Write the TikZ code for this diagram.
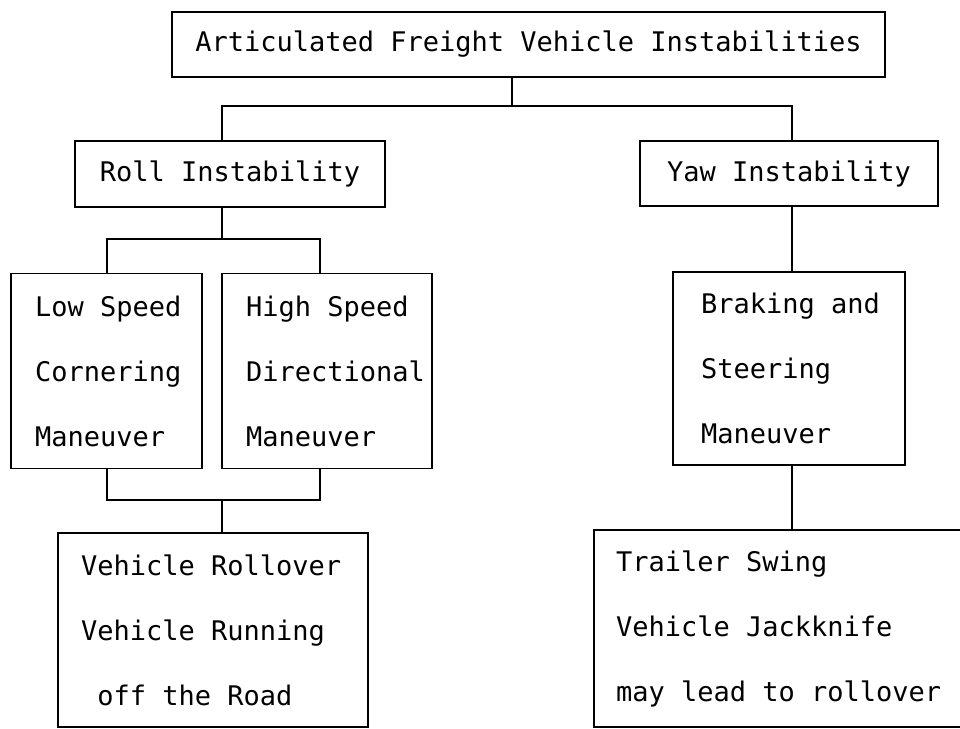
\documentclass[tikz,border=0pt]{standalone}
\usepackage{fontspec}
\setmonofont[WordSpace={1,0,0}]{DejaVu Sans Mono}
\newcommand\boxfont{\ttfamily\fontsize{27}{65}\selectfont}
\newcommand\monospaces{\spaceskip=0pt\xspaceskip=0pt\relax}
\tikzset{
  box/.style={draw, line width=1.5pt, font=\boxfont, inner xsep=0pt, inner ysep=0pt},
  onebox/.style={box, align=center},
  listbox/.style={box, align=left, execute at begin node=\monospaces},
  link/.style={line width=1.5pt}
}
\begin{document}
\begin{tikzpicture}[x=1pt,y=-1pt]
\useasboundingbox (0,0) rectangle (960,728);
\clip (0,0) rectangle (960,728);

% top level
\node[onebox, minimum width=713pt, minimum height=65pt] (top) at (528.5,44.5)
  {Articulated Freight Vehicle Instabilities};

% second level
\node[onebox, minimum width=310pt, minimum height=66pt] (roll) at (230,174) {Roll Instability};
\node[onebox, minimum width=298pt, minimum height=65pt] (yaw) at (789,173.5) {Yaw Instability};

% manoeuvres (the words of a line are tied so that lines never break)
\node[listbox, inner xsep=24pt, text width=143pt, minimum height=195pt] (low) at (106.5,371)
  {Low~Speed\\Cornering\\Maneuver};
\node[listbox, inner xsep=24pt, text width=162pt, minimum height=195pt] (high) at (327,371)
  {High~Speed\\Directional\\Maneuver};
\node[listbox, inner xsep=28pt, text width=176pt, minimum height=193pt] (brake) at (789,368.5)
  {Braking~and\\Steering\\Maneuver};

% outcomes
\node[listbox, inner xsep=23pt, text width=264pt, minimum height=194pt] (veh) at (213,630)
  {Vehicle~Rollover\\Vehicle~Running\\\phantom{o}off~the~Road};
\node[listbox, inner xsep=22pt, text width=356pt, minimum height=197pt] (trail) at (794,628.5)
  {Trailer~Swing\\Vehicle~Jackknife\\may~lead~to~rollover};

% junction points
\coordinate (barM) at (512,106);
\coordinate (barL) at (222,106);
\coordinate (barR) at (792,106);
\coordinate (upM) at (222,239);
\coordinate (upL) at (107,239);
\coordinate (upR) at (320,239);
\coordinate (dnM) at (222,500);
\coordinate (dnL) at (107,500);
\coordinate (dnR) at (320,500);

% connectors
\draw[link] (barM |- top.south) -- (barM);
\draw[link] (barL |- roll.north) -- (barL) -- (barR) -- (barR |- yaw.north);
\draw[link] (upM |- roll.south) -- (upM);
\draw[link] (upL |- low.north) -- (upL) -- (upR) -- (upR |- high.north);
\draw[link] (dnL |- low.south) -- (dnL) -- (dnR) -- (dnR |- high.south);
\draw[link] (dnM) -- (dnM |- veh.north);
\draw[link] (barR |- yaw.south) -- (barR |- brake.north);
\draw[link] (barR |- brake.south) -- (barR |- trail.north);
\end{tikzpicture}
\end{document}
